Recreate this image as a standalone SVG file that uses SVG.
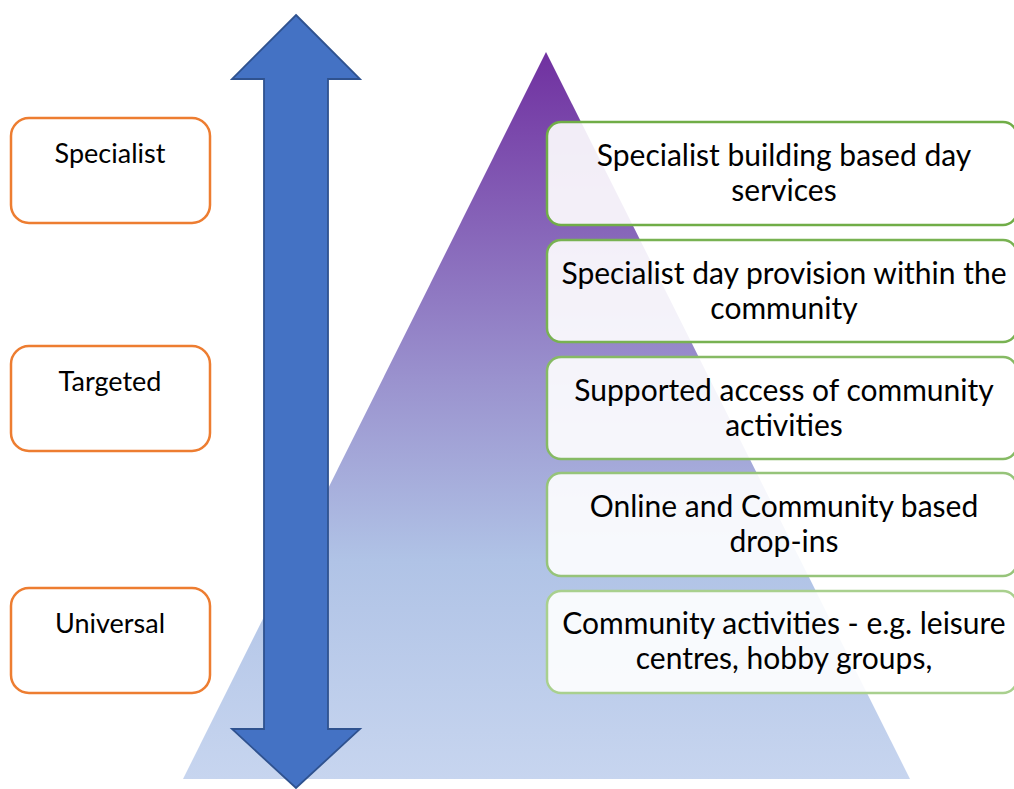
<svg xmlns="http://www.w3.org/2000/svg" width="1014" height="789" viewBox="0 0 1014 789">
  <defs>
    <linearGradient id="pyramidFill" x1="0" y1="52" x2="0" y2="779" gradientUnits="userSpaceOnUse">
      <stop offset="0" stop-color="#7030A0"/>
      <stop offset="0.45" stop-color="#9A92CE"/>
      <stop offset="0.7" stop-color="#B0C3E6"/>
      <stop offset="1" stop-color="#C7D5EF"/>
    </linearGradient>
    <style>
      .level rect { fill: #FFFFFF; stroke: #ED7D31; stroke-width: 2.5; }
      .level text { font-family: Lato, "Liberation Sans", sans-serif; font-size: 27px; fill: #000000; text-anchor: middle; }
      .tier rect { fill: #FFFFFF; fill-opacity: 0.9; stroke-width: 2.5; }
      .tier text { font-family: Lato, "Liberation Sans", sans-serif; font-size: 30px; fill: #000000; text-anchor: middle; }
    </style>
  </defs>

  <rect width="1014" height="789" fill="#FFFFFF"/>

  <!-- pyramid background -->
  <polygon id="pyramid" points="546,52 910,779 183,779" fill="url(#pyramidFill)"/>

  <!-- double-headed vertical arrow -->
  <g id="connectors">
    <polygon id="scale-arrow" points="296,15 360,79 328,79 328,729 360,729 296,788 232,729 264,729 264,79 232,79"
             fill="#4472C4" stroke="#2F528F" stroke-width="1.8" stroke-linejoin="miter"/>
  </g>

  <!-- level labels on the left -->
  <g id="level-specialist" class="level">
    <rect x="11" y="118" width="199" height="105" rx="18"/>
    <text x="110" y="163">Specialist</text>
  </g>
  <g id="level-targeted" class="level">
    <rect x="11" y="346" width="199" height="105" rx="18"/>
    <text x="110" y="391">Targeted</text>
  </g>
  <g id="level-universal" class="level">
    <rect x="11" y="588" width="199" height="105" rx="18"/>
    <text x="110" y="633">Universal</text>
  </g>

  <!-- service tiers on the right -->
  <g id="tier-1" class="tier">
    <rect x="547" y="122" width="470" height="103" rx="14" stroke="#70AD47"/>
    <text x="784" y="166">Specialist building based day</text>
    <text x="784" y="201">services</text>
  </g>
  <g id="tier-2" class="tier">
    <rect x="547" y="240" width="470" height="102" rx="14" stroke="#78B252"/>
    <text x="784" y="284">Specialist day provision within the</text>
    <text x="784" y="319">community</text>
  </g>
  <g id="tier-3" class="tier">
    <rect x="547" y="357" width="470" height="102" rx="14" stroke="#86BA64"/>
    <text x="784" y="401">Supported access of community</text>
    <text x="784" y="436">activities</text>
  </g>
  <g id="tier-4" class="tier">
    <rect x="547" y="473" width="470" height="103" rx="14" stroke="#96C47A"/>
    <text x="784" y="517">Online and Community based</text>
    <text x="784" y="552">drop-ins</text>
  </g>
  <g id="tier-5" class="tier">
    <rect x="547" y="591" width="470" height="102" rx="14" stroke="#A9D08E"/>
    <text x="784" y="634">Community activities - e.g. leisure</text>
    <text x="784" y="669">centres, hobby groups,</text>
  </g>
</svg>
